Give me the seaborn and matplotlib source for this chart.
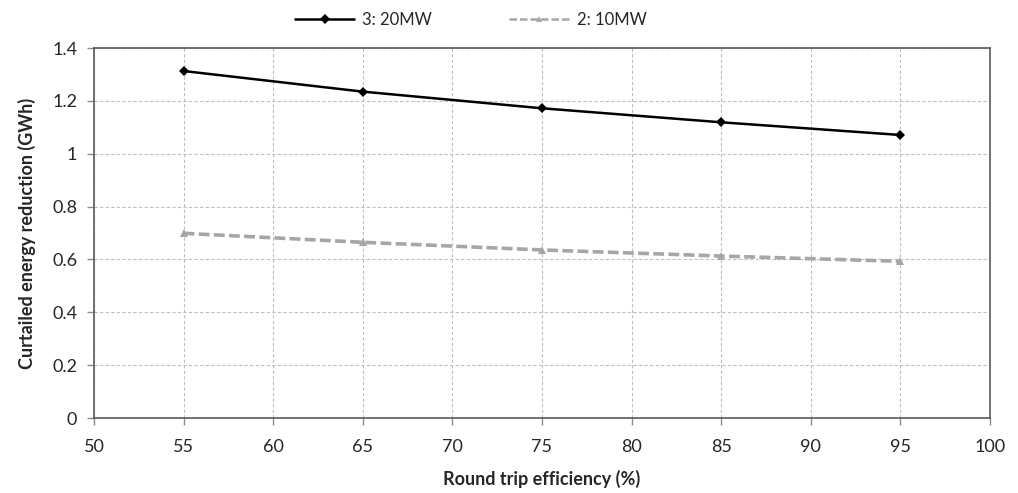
import pandas as pd
import matplotlib
matplotlib.use('Agg')
import matplotlib.pyplot as plt
import seaborn as sns

# data
efficiency = [55, 65, 75, 85, 95]
mw20 = [1.313, 1.235, 1.172, 1.119, 1.071]
mw10 = [0.699, 0.665, 0.636, 0.613, 0.593]
series_names = ['3: 20MW', '2: 10MW']

df = pd.DataFrame({
    'efficiency': efficiency * 2,
    'value': mw20 + mw10,
    'series': [series_names[0]] * 5 + [series_names[1]] * 5,
})

sns.set_theme(style='white')
plt.rcParams['font.family'] = ['Lato', 'DejaVu Sans']

fig = plt.figure(figsize=(10.18, 4.93), dpi=100)
ax = fig.add_axes([0.0923, 0.152, 0.8802, 0.7506])

sns.lineplot(data=df, x='efficiency', y='value', hue='series', style='series',
             palette=['black', '#a6a6a6'], dashes=[(1, 0), (3, 1.2)],
             markers=['D', '^'], markersize=5, markeredgewidth=0,
             linewidth=1.8, ax=ax)
# thicker grey dashed line, slightly bigger triangles
ax.lines[1].set_linewidth(2.6)
ax.lines[1].set_markersize(6)

ax.set_xlim(50, 100)
ax.set_ylim(0, 1.4)
ax.set_xticks(range(50, 101, 5))
ax.set_yticks([0, 0.2, 0.4, 0.6, 0.8, 1, 1.2, 1.4])
ax.set_yticklabels(['0', '0.2', '0.4', '0.6', '0.8', '1', '1.2', '1.4'])
ax.grid(True, color='#bfbfbf', linestyle=(0, (3, 2)), linewidth=0.8)
for s in ax.spines.values():
    s.set_color('#595959')
    s.set_linewidth(1.2)
ax.tick_params(axis='both', labelsize=13, colors='#262626', length=5,
               direction='out', bottom=True, left=True, width=1, color='#8c8c8c')
ax.tick_params(axis='x', pad=10)
ax.tick_params(axis='y', pad=7)
ax.set_xlabel('Round trip efficiency (%)', fontsize=13, fontweight='bold', labelpad=11)
ax.set_ylabel('Curtailed energy reduction (GWh)', fontsize=13, fontweight='bold', labelpad=12)

ax.legend(loc='center', bbox_to_anchor=(0.42, 1.075), ncol=2, frameon=False,
          fontsize=12, handlelength=3.7, handletextpad=0.4, columnspacing=4.6)

plt.savefig('out.png', dpi=100)
